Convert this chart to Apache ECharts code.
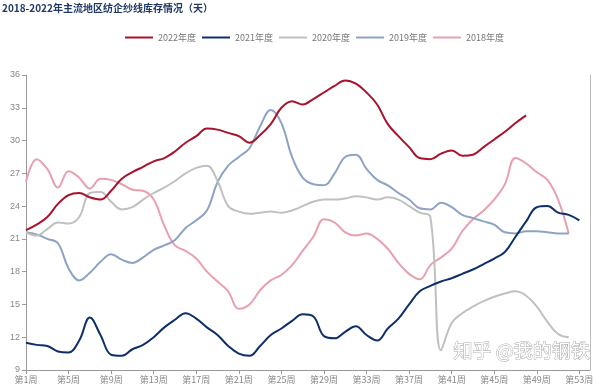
<!DOCTYPE html>
<html>
<head>
<meta charset="utf-8">
<script src="https://cdn.jsdelivr.net/npm/echarts@6/dist/echarts.min.js"></script>
<style>html,body{margin:0;padding:0;background:#fff}#c{width:600px;height:390px}</style>
</head>
<body>
<div id="c"></div>
<script>
var weeks = [];
for (var i = 1; i <= 54; i++) weeks.push('第' + i + '周');

var s2022 = [21.8,22.3,23.0,24.2,25.0,25.2,24.8,24.6,25.4,26.5,27.1,27.6,28.1,28.4,29.0,29.8,30.4,31.1,31.0,30.7,30.4,29.8,30.5,31.5,33.0,33.6,33.3,33.8,34.4,35.0,35.5,35.2,34.4,33.3,31.5,30.4,29.4,28.4,28.3,28.8,29.1,28.6,28.7,29.4,30.1,30.8,31.6,32.3];
var s2021 = [11.5,11.3,11.2,10.7,10.6,11.7,13.8,12.2,10.4,10.3,10.9,11.3,12.0,12.9,13.6,14.2,13.7,12.9,12.2,11.2,10.5,10.3,11.2,12.2,12.8,13.5,14.1,13.9,12.1,11.9,12.5,13.0,12.2,11.7,12.8,13.7,15.0,16.2,16.7,17.1,17.4,17.8,18.2,18.7,19.2,19.8,21.2,22.6,23.9,24.0,23.4,23.2,22.7];
var s2020 = [21.6,21.3,21.9,22.5,22.4,23.0,25.2,25.3,24.4,23.7,23.9,24.6,25.2,25.7,26.3,27.0,27.5,27.7,26.3,24.0,23.5,23.3,23.4,23.5,23.4,23.6,24.0,24.4,24.6,24.6,24.7,24.9,24.8,24.6,24.8,24.6,24.0,23.4,23.0,10.8,13.3,14.2,14.8,15.3,15.7,16.0,16.2,15.8,14.8,13.4,12.3,12.0];
var s2019 = [21.6,21.4,21.0,20.6,18.3,17.2,17.9,18.9,19.6,19.1,18.8,19.3,20.0,20.4,20.9,22.0,22.7,23.6,26.2,27.7,28.5,29.3,31.3,32.8,31.6,28.5,26.6,26.0,25.9,27.0,28.5,28.7,27.4,26.4,25.9,25.2,24.6,23.8,23.7,24.3,23.9,23.2,22.9,22.6,22.3,21.6,21.5,21.7,21.7,21.6,21.5,21.5];
var s2018 = [26.2,28.3,27.4,25.7,27.2,26.6,25.6,26.5,26.4,26.0,25.5,25.4,24.6,22.2,20.4,19.9,19.2,18.0,17.1,16.2,14.6,15.0,16.3,17.2,17.7,18.6,19.9,21.2,22.8,22.5,21.6,21.3,21.5,21.0,20.1,18.8,17.8,17.3,18.6,19.3,20.1,21.7,22.8,23.6,24.6,26.0,28.4,27.9,27.1,26.4,24.6,21.5];

var names = ['2022年度','2021年度','2020年度','2019年度','2018年度'];
var colors = ['#A8122C','#0E2F6A','#C0C0C0','#8EA3C4','#E8A0AE'];
var data = [s2022, s2021, s2020, s2019, s2018];

var chart = echarts.init(document.getElementById('c'));
var series = names.map(function (n, k) {
  return {
    name: n, type: 'line', data: data[k], smooth: 0.4, symbol: 'none',
    lineStyle: { width: 2, color: colors[k] }, itemStyle: { color: colors[k] }, z: 10 - k
  };
});

chart.setOption({
  animation: false,
  title: {
    text: '2018-2022年主流地区纺企纱线库存情况（天）',
    left: 2, top: 3, padding: 0,
    textStyle: { fontSize: 10, fontWeight: 'bold', color: '#1F3864', fontFamily: 'Noto Sans CJK SC' }
  },
  legend: {
    top: 33, left: 125, padding: 0, itemWidth: 28, itemHeight: 2, itemGap: 6,
    icon: 'rect',
    textStyle: { fontSize: 9, color: '#777', fontFamily: 'Noto Sans CJK SC' },
    data: names
  },
  grid: { left: 26, right: 10, top: 75, bottom: 20 },
  xAxis: {
    type: 'category', data: weeks, boundaryGap: false,
    axisLine: { lineStyle: { color: '#999' } },
    axisTick: { interval: 3, length: 4, lineStyle: { color: '#999' } },
    axisLabel: { interval: 3, fontSize: 9, color: '#888', margin: 5, fontFamily: 'Noto Sans CJK SC' },
    splitLine: { show: false }
  },
  yAxis: [{
    type: 'value', min: 9, max: 36, interval: 3,
    axisLine: { show: true, lineStyle: { color: '#999' } },
    axisTick: { show: true, length: 4, lineStyle: { color: '#999' } },
    axisLabel: { fontSize: 9, color: '#888', margin: 6 },
    splitLine: { show: false }
  }, {
    type: 'value', min: 9, max: 36, interval: 3, position: 'right',
    axisLine: { show: true, lineStyle: { color: '#bbb' } },
    axisTick: { show: false }, axisLabel: { show: false }, splitLine: { show: false }
  }],
  graphic: [{
    type: 'text', left: 453, top: 341, z: 100,
    style: { text: '知乎 @我的钢铁', fontSize: 19, fill: '#fff', stroke: '#aaa', lineWidth: 1, fontFamily: 'Noto Sans CJK SC' }
  }],
  series: series
});
</script>
</body>
</html>
